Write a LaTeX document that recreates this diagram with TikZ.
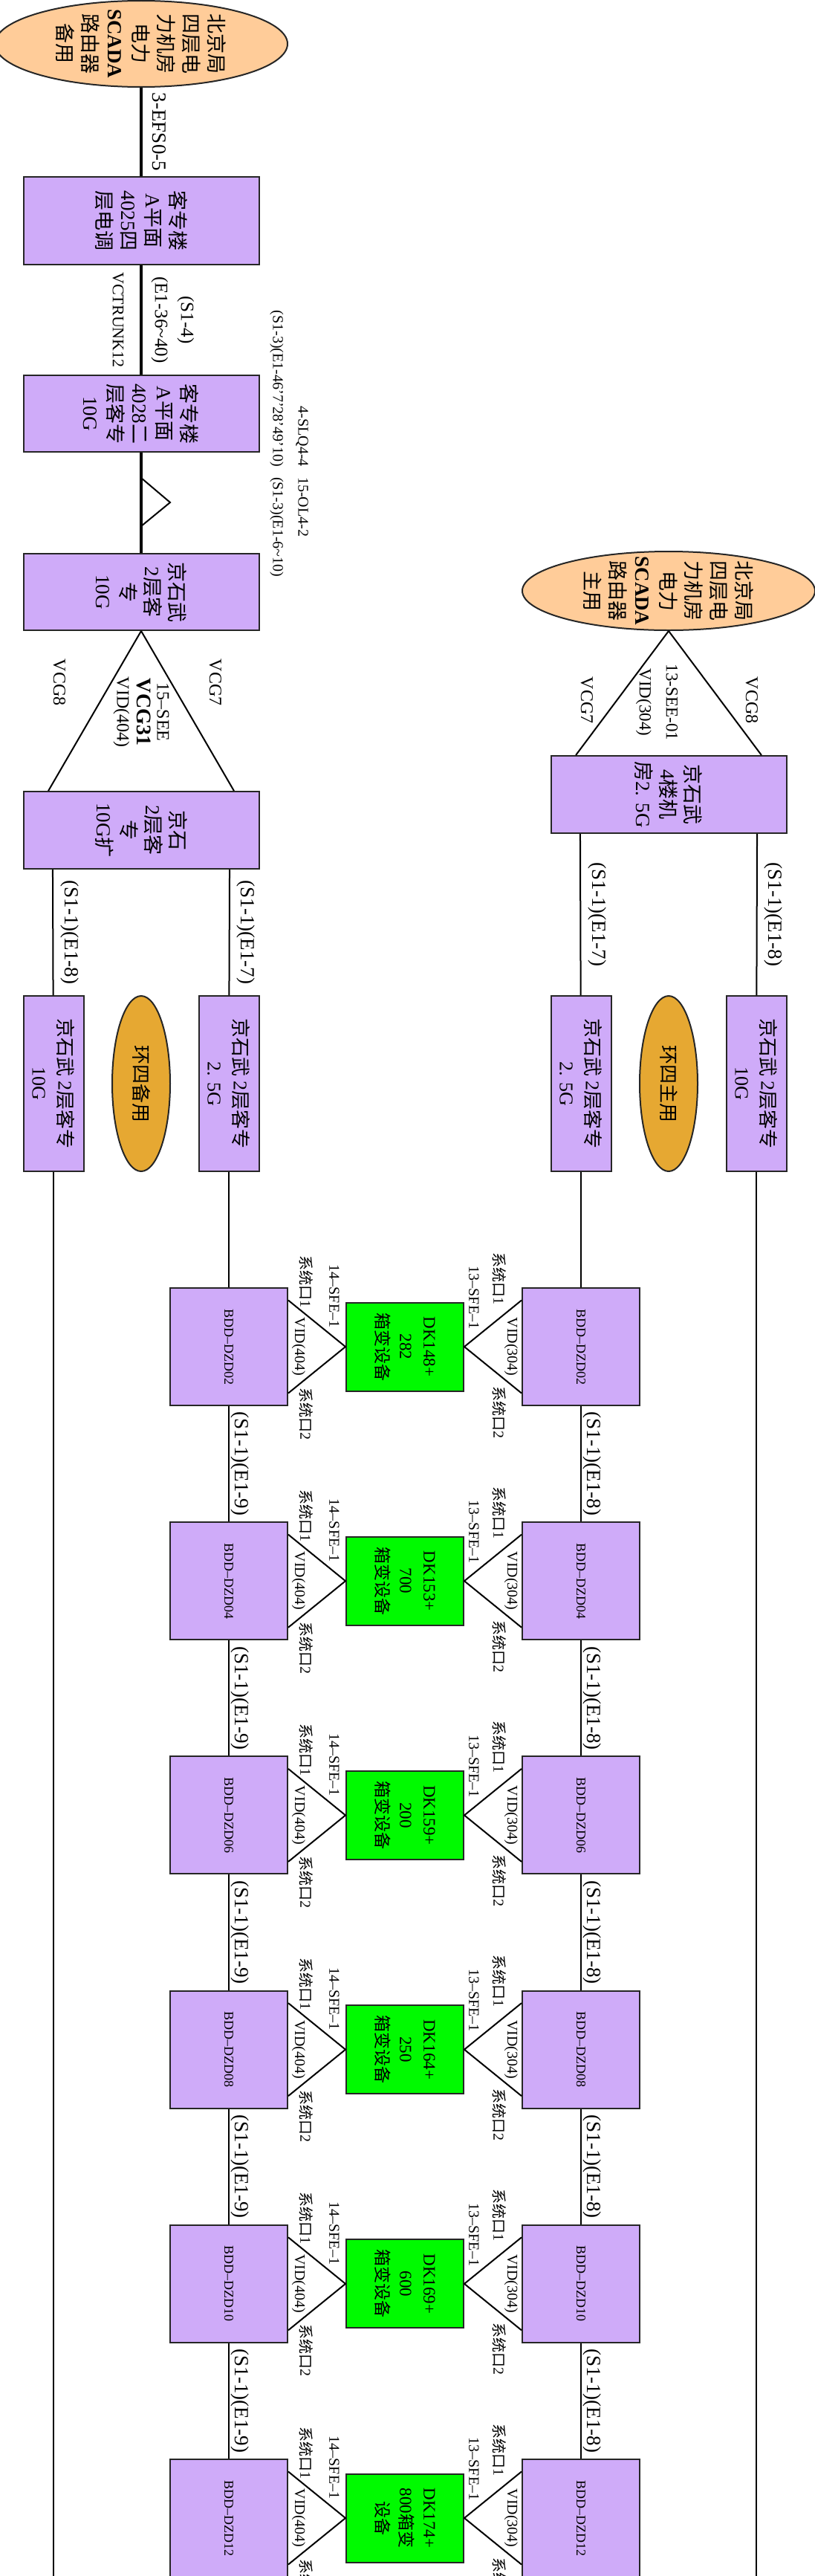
\documentclass[tikz,border=0pt]{standalone}
\usepackage{fontspec}
\setmainfont{Liberation Serif}
\newfontfamily\cnfont{Noto Sans CJK SC}
\newcommand\cn[1]{{\cnfont #1}}
\usetikzlibrary{shapes.geometric}
\definecolor{boxfill}{RGB}{207,171,249}
\definecolor{sitefill}{RGB}{255,204,153}
\definecolor{ringfill}{RGB}{230,168,50}
\definecolor{dkfill}{RGB}{0,250,0}

\begin{document}
\begin{tikzpicture}[x=1pt, y=1pt, rotate=-90, transform shape,
      every node/.append style={inner sep=0pt, align=center, font=\fontsize{27}{33}\selectfont}]
    \tikzstyle{box} = [rectangle, draw=black!85, line width=2pt, fill=boxfill, minimum width=103pt, minimum height=317pt]
    \tikzstyle{site} = [ellipse, draw=black!85, line width=2pt, fill=sitefill, inner xsep=-10pt, minimum height=394pt, font=\fontsize{27}{34}\selectfont]
    \tikzstyle{half} = [rectangle, draw=black!85, line width=2pt, fill=boxfill, minimum width=236pt, minimum height=81pt, font=\fontsize{26}{35}\selectfont]
    \tikzstyle{ring} = [ellipse, draw=black!85, line width=2pt, fill=ringfill, minimum width=236pt, minimum height=78pt, font=\fontsize{26}{30}\selectfont]
    \tikzstyle{bdd} = [rectangle, draw=black!85, line width=2pt, fill=boxfill, minimum width=158pt, minimum height=158pt, font=\fontsize{18}{22}\selectfont]
    \tikzstyle{dk} = [rectangle, draw=black!85, line width=2pt, fill=dkfill, minimum width=119pt, minimum height=158pt, font=\fontsize{23}{32}\selectfont]
    \tikzstyle{link} = [line width=2pt]
    \tikzstyle{trunk} = [line width=3.3pt]
    \tikzstyle{port} = [font=\fontsize{20}{24}\selectfont]
    \tikzstyle{vcg} = [font=\fontsize{24}{27}\selectfont]
    \useasboundingbox (0,0) rectangle (3466,1097);

    % standby side
    \node[site, minimum width=116pt] (bkbak) at (59,190) {\cn{北京局}\\\cn{四层电}\\\cn{力机房}\\\cn{电力}\\\textbf{SCADA}\\\cn{路由器}\\\cn{备用}};
    \node[box, minimum width=118pt] (kzl25) at (297,190) {\cn{客专楼}\\A\cn{平面}\\4025\cn{四}\\\cn{层电调}};
    \node[box] (kzl28) at (556.5,190) {\cn{客专楼}\\A\cn{平面}\\4028\cn{二}\\\cn{层客专}\\10G};
    \node[box] (jsw10) at (796.5,190) {\cn{京石武}\\2\cn{层客}\\\cn{专}\\10G};
    \node[box, minimum width=104pt] (jsw10k) at (1117,190) {\cn{京石}\\2\cn{层客}\\\cn{专}\\10G\cn{扩}};
    \node[half] (jsw10a) at (1458,72) {\cn{京石武} 2\cn{层客专}\\10G};
    \node[ring] (ringbak) at (1458,190) {\cn{环四备用}};
    \node[half] (jsw25a) at (1458,308) {\cn{京石武} 2\cn{层客专}\\2. 5G};

    \draw[trunk] (bkbak) -- (kzl25) node[midway, above=14pt] {3-EFS0-5};
    \draw[trunk] (kzl25) -- (kzl28)
      node[midway, above=12pt, font=\fontsize{25}{35}\selectfont] {(S1-4)\\(E1-36\textasciitilde40)}
      node[midway, below=22pt, font=\fontsize{22}{26}\selectfont] {VCTRUNK12};
    \draw[trunk] (kzl28) -- (jsw10);
    \draw[link] (643,190) -- (676,229) -- (708,190);
    \node[anchor=east, align=right, font=\fontsize{20}{34}\selectfont] (slq) at (628,389) {4-SLQ4-4\\(S1-3)(E1-46'7'28'49'10)};
    \node[anchor=west, align=left, font=\fontsize{20}{34}\selectfont] (ol4) at (642,389) {15-OL4-2\\(S1-3)(E1-6\textasciitilde10)};

    \draw[link] (jsw10.east) -- (jsw10k.-113.8);
    \draw[link] (jsw10.east) -- (jsw10k.113.8);
    \node[vcg] (vcg8a) at (918,80) {VCG8};
    \node[vcg] (vcg7a) at (918,290) {VCG7};
    \node[vcg] (see15) at (958,190) {15–SEE\\{\fontsize{28}{27}\selectfont\bfseries VCG31}\\VID(404)};
    \draw[link] (jsw10k.-66) -- (jsw10a) node[midway, above=9pt] {(S1-1)(E1-8)};
    \draw[link] (jsw10k.66) -- (jsw25a) node[midway, above=9pt] {(S1-1)(E1-7)};
    \coordinate (enda) at (3466,72);
    \draw[link] (jsw10a) -- (enda);

    % main side
    \node[site, minimum width=106pt] (bkzhu) at (795,900) {\cn{北京局}\\\cn{四层电}\\\cn{力机房}\\\cn{电力}\\\textbf{SCADA}\\\cn{路由器}\\\cn{主用}};
    \node[box, minimum width=104pt] (jsw4) at (1069,900) {\cn{京石武}\\4\cn{楼机}\\\cn{房}2. 5G};
    \draw[link] (bkzhu.east) -- (jsw4.-113.8);
    \draw[link] (bkzhu.east) -- (jsw4.113.8);
    \node[vcg] (vcg7b) at (942,790) {VCG7};
    \node[vcg] (vcg8b) at (942,1012) {VCG8};
    \node[vcg, font=\fontsize{23}{36}\selectfont] (see13) at (945,884) {13-SEE-01\\VID(304)};
    \node[half] (jsw25b) at (1458,782) {\cn{京石武} 2\cn{层客专}\\2. 5G};
    \node[ring] (ringzhu) at (1458,900) {\cn{环四主用}};
    \node[half] (jsw10b) at (1458,1018) {\cn{京石武} 2\cn{层客专}\\10G};
    \draw[link] (jsw4.-66) -- (jsw25b) node[midway, above=9pt] {(S1-1)(E1-7)};
    \draw[link] (jsw4.66) -- (jsw10b) node[midway, above=9pt] {(S1-1)(E1-8)};
    \coordinate (endd) at (3466,1018);
    \draw[link] (jsw10b) -- (endd);

    % box transformer rows
    \foreach \k/\zd/\dka/\dkb/\dkc in {0/02/DK148+/282/\cn{箱变设备}, 1/04/DK153+/700/\cn{箱变设备},
        2/06/DK159+/200/\cn{箱变设备}, 3/08/DK164+/250/\cn{箱变设备},
        4/10/DK169+/600/\cn{箱变设备}, 5/12/DK174+/800\cn{箱变}/\cn{设备}} {
      \pgfmathsetmacro\cx{1812+315.2*\k}
      \node[bdd] (ld\k) at (\cx,308) {BDD–DZD\zd};
      \node[dk] (dk\k) at (\cx,545) {\dka\\\dkb\\\dkc};
      \node[bdd] (rd\k) at (\cx,782) {BDD–DZD\zd};
      \draw[link] (ld\k.52) -- (dk\k.south) -- (ld\k.128);
      \draw[link] (rd\k.-52) -- (dk\k.north) -- (rd\k.-128);
      \node[port] (la\k) at (\cx-88,412) {\cn{系统口}1};
      \node[port] (lb\k) at (\cx-68,450) {14–SFE–1};
      \node[port] (lc\k) at (\cx,402) {VID(404)};
      \node[port] (ld2\k) at (\cx+90,412) {\cn{系统口}2};
      \node[port] (ra\k) at (\cx-92,672) {\cn{系统口}1};
      \node[port] (rb\k) at (\cx-66,638) {13–SFE–1};
      \node[port] (rc\k) at (\cx,688) {VID(304)};
      \node[port] (rd2\k) at (\cx+88,672) {\cn{系统口}2};
    }
    \draw[link] (jsw25a) -- (ld0);
    \draw[link] (jsw25b) -- (rd0);
    \foreach \k [evaluate=\k as \j using int(\k-1)] in {1,...,5} {
      \draw[link] (ld\j) -- (ld\k) node[midway, above=2pt] {(S1-1)(E1-9)};
      \draw[link] (rd\j) -- (rd\k) node[midway, above=2pt] {(S1-1)(E1-8)};
    }
\end{tikzpicture}
\end{document}
